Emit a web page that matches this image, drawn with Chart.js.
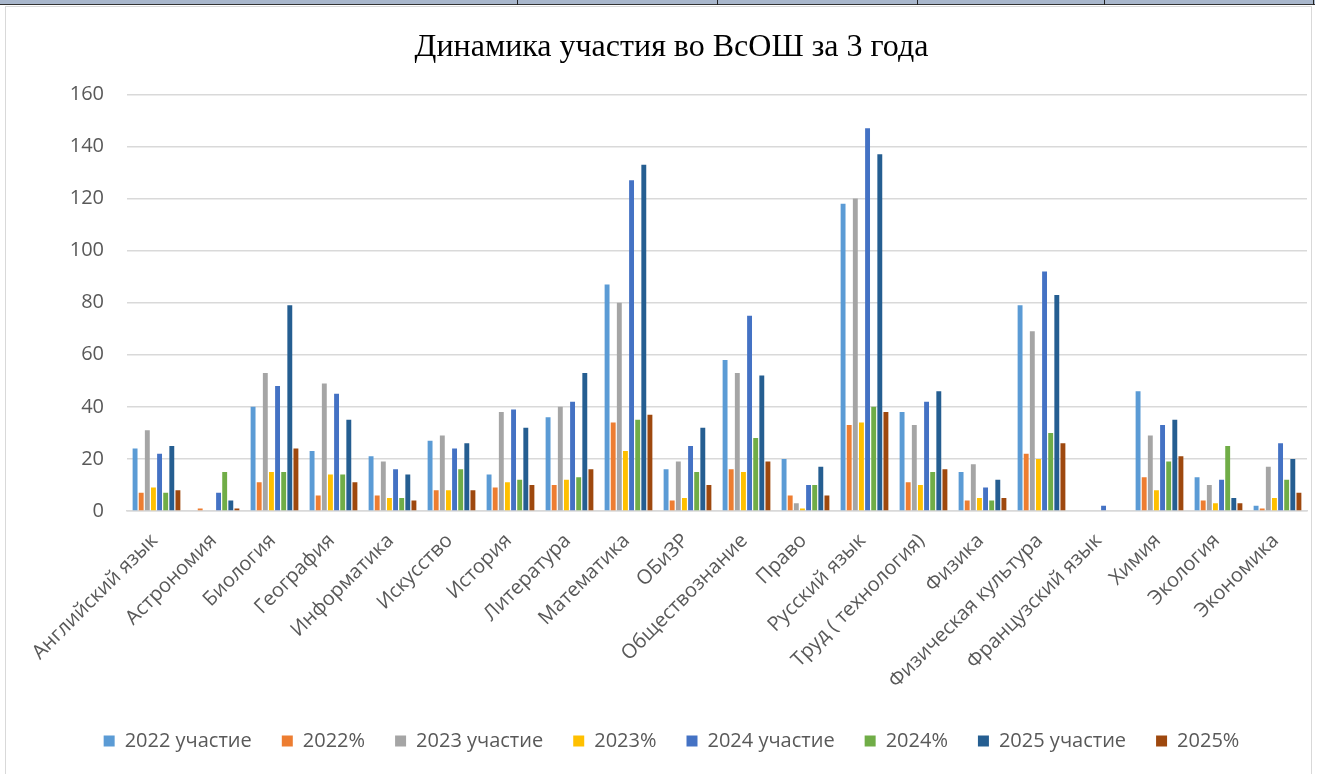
<!DOCTYPE html>
<html lang="ru">
<head>
<meta charset="utf-8">
<title>Динамика участия во ВсОШ за 3 года</title>
<script src="https://cdn.jsdelivr.net/npm/chart.js@4.4.1/dist/chart.umd.min.js"></script>
<style>
  html, body { margin: 0; padding: 0; background: #fff; }
  body { width: 1334px; height: 774px; position: relative; overflow: hidden; }
  .strip { position: absolute; top: 0; left: 0; width: 1315px; height: 4px; background: #a9b7cc; border-bottom: 1px solid #333; }
  .strip span { position: absolute; top: 0; width: 1px; height: 5px; background: #222; }
  .frame { position: absolute; left: 5px; top: 6px; width: 1307px; height: 780px; border: 1px solid #d9d9d9; box-sizing: border-box; }
  .frame canvas { display: block; }
</style>
</head>
<body>
<div class="strip"><span style="left:517px"></span><span style="left:717px"></span><span style="left:917px"></span><span style="left:1104px"></span><span style="left:1313px"></span></div>
<div class="frame"><canvas id="chart" width="1305" height="766"></canvas></div>
<script>
const subjects = ['Английский язык', 'Астрономия', 'Биология', 'География', 'Информатика', 'Искусство',
  'История', 'Литература', 'Математика', 'ОБиЗР', 'Обществознание', 'Право', 'Русский язык',
  'Труд ( технология)', 'Физика', 'Физическая культура', 'Французский язык', 'Химия', 'Экология', 'Экономика'];

const part2022 = [24, 0, 40, 23, 21, 27, 14, 36, 87, 16, 58, 20, 118, 38, 15, 79, 0, 46, 13, 2];
const pct2022  = [7, 1, 11, 6, 6, 8, 9, 10, 34, 4, 16, 6, 33, 11, 4, 22, 0, 13, 4, 1];
const part2023 = [31, 0, 53, 49, 19, 29, 38, 40, 80, 19, 53, 3, 120, 33, 18, 69, 0, 29, 10, 17];
const pct2023  = [9, 0, 15, 14, 5, 8, 11, 12, 23, 5, 15, 1, 34, 10, 5, 20, 0, 8, 3, 5];
const part2024 = [22, 7, 48, 45, 16, 24, 39, 42, 127, 25, 75, 10, 147, 42, 9, 92, 2, 33, 12, 26];
const pct2024  = [7, 15, 15, 14, 5, 16, 12, 13, 35, 15, 28, 10, 40, 15, 4, 30, 0, 19, 25, 12];
const part2025 = [25, 4, 79, 35, 14, 26, 32, 53, 133, 32, 52, 17, 137, 46, 12, 83, 0, 35, 5, 20];
const pct2025  = [8, 1, 24, 11, 4, 8, 10, 16, 37, 10, 19, 6, 38, 16, 5, 26, 0, 21, 3, 7];

const seriesNames = ['2022 участие', '2022%', '2023 участие', '2023%', '2024 участие', '2024%', '2025 участие', '2025%'];
const seriesData = [part2022, pct2022, part2023, pct2023, part2024, pct2024, part2025, pct2025];
const seriesColors = ['#5B9BD5', '#ED7D31', '#A5A5A5', '#FFC000', '#4472C4', '#70AD47', '#255E91', '#9E480E'];

const yTicks = [0, 20, 40, 60, 80, 100, 120, 140, 160];

const textColor = '#595959';
const gridColor = '#d9d9d9';
const labelFont = { family: '"Open Sans", sans-serif', size: 20 };

new Chart(document.getElementById('chart'), {
  type: 'bar',
  data: {
    labels: subjects,
    datasets: seriesNames.map((name, i) => ({
      label: name,
      data: seriesData[i],
      backgroundColor: seriesColors[i],
      borderWidth: 0,
      categoryPercentage: 0.83,
      barPercentage: 0.8
    }))
  },
  options: {
    responsive: false,
    animation: false,
    layout: { padding: { left: 30, right: 4, top: 11, bottom: 12 } },
    plugins: {
      title: {
        display: true,
        text: 'Динамика участия во ВсОШ за 3 года',
        color: '#000',
        font: { family: '"Liberation Serif", serif', size: 32, weight: 'normal' },
        padding: { top: 10, bottom: 28 }
      },
      legend: {
        position: 'bottom',
        labels: {
          color: textColor,
          font: labelFont,
          boxWidth: 11,
          boxHeight: 11,
          padding: 30
        }
      },
      tooltip: { enabled: false }
    },
    scales: {
      x: {
        grid: { display: false },
        border: { color: gridColor, width: 1.5 },
        ticks: {
          color: textColor,
          font: labelFont,
          minRotation: 45,
          maxRotation: 45,
          autoSkip: false,
          labelOffset: -2,
          padding: 10
        },
        afterFit: axis => {
          axis.paddingLeft = 0;
          axis.paddingRight = 0;
          axis.height = 190;
        }
      },
      y: {
        min: 0,
        max: 160,
        afterBuildTicks: axis => { axis.ticks = yTicks.map(v => ({ value: v })); },
        afterFit: axis => { axis.width = 91; },
        grid: { color: gridColor, lineWidth: 1.5, drawTicks: false },
        border: { display: false },
        ticks: {
          color: textColor,
          font: labelFont,
          padding: 23
        }
      }
    }
  }
});
</script>
</body>
</html>
